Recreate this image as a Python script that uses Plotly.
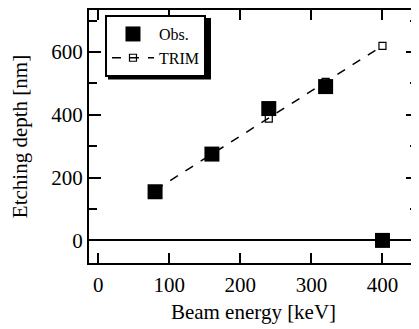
import plotly.graph_objects as go

energy = [80, 160, 240, 320, 400]
obs_depth = [155, 275, 420, 490, 0]
trim_depth = [160, 275, 388, 505, 620]

x_ticks = [0, 100, 200, 300, 400]
y_ticks = [0, 200, 400, 600]

font = dict(family="Liberation Serif, Times New Roman, serif", color="black")

fig = go.Figure()
fig.add_trace(go.Scatter(
    x=energy, y=trim_depth, name="TRIM", mode="lines+markers",
    line=dict(color="black", width=1.5, dash="dash"),
    marker=dict(symbol="square-open", size=7, color="black", line=dict(width=1.2)),
))
fig.add_trace(go.Scatter(
    x=energy, y=obs_depth, name="Obs.", mode="markers",
    marker=dict(symbol="square", size=15, color="black"),
))

# legend shadow (paper coordinates)
fig.add_shape(type="rect", xref="paper", yref="paper",
              x0=0.0578, x1=0.3708, y0=0.7255, y1=0.9686,
              fillcolor="black", line=dict(width=0), layer="above")

fig.update_layout(
    width=419, height=329,
    margin=dict(l=81, r=9, t=0, b=74),
    paper_bgcolor="white", plot_bgcolor="white",
    font=dict(size=21, **font),
    showlegend=True,
    legend=dict(
        x=0.0486, y=0.980, xanchor="left", yanchor="top",
        bordercolor="black", borderwidth=2, bgcolor="white",
        traceorder="reversed",
        font=dict(size=16, **font),
        itemwidth=42,
        tracegroupgap=0,
    ),
    xaxis=dict(
        range=[-13, 450], tickvals=x_ticks, ticktext=[str(v) for v in x_ticks],
        ticks="inside", ticklen=10, tickwidth=1.5, tickcolor="black",
        tickfont=dict(size=21, **font), ticklabelstandoff=2,
        showline=True, linecolor="black", linewidth=2, mirror="ticks",
        showgrid=False, zeroline=False,
        title=dict(text="Beam energy [keV]", font=dict(size=21, **font), standoff=8),
    ),
    yaxis=dict(
        range=[-72, 734], tickvals=y_ticks, ticktext=[str(v) for v in y_ticks],
        ticks="inside", ticklen=12, tickwidth=1.5, tickcolor="black",
        tickfont=dict(size=21, **font),
        minor=dict(tickvals=[100, 300, 500, 700], ticks="inside", ticklen=8, tickwidth=1.5, tickcolor="black"),
        showline=True, linecolor="black", linewidth=2, mirror="ticks",
        showgrid=False, zeroline=True, zerolinecolor="black", zerolinewidth=1.5,
        title=dict(text="Etching depth [nm]", font=dict(size=21, **font), standoff=20),
    ),
)

fig.write_html("out.html")
